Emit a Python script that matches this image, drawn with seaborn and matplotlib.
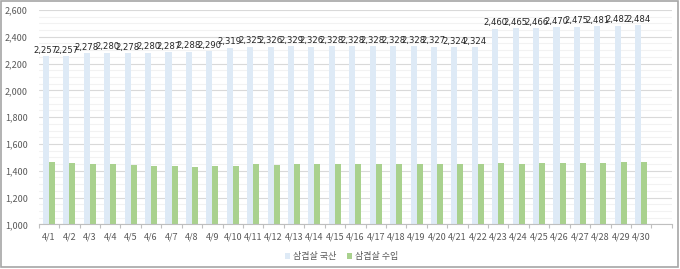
import matplotlib
matplotlib.use("Agg")
import matplotlib.pyplot as plt
import seaborn as sns
import pandas as pd
import numpy as np
from matplotlib.ticker import MultipleLocator, FixedLocator, FuncFormatter
from matplotlib.patches import Rectangle

dates = ["4/%d" % d for d in range(1, 31)]
domestic = [2257, 2257, 2278, 2280, 2278, 2280, 2287, 2288, 2290,
            2319, 2325, 2326, 2329, 2326, 2328, 2328, 2328, 2328, 2328, 2327, 2324, 2324,
            2460, 2465, 2466, 2470, 2475, 2481, 2482, 2484]
imported = [1462, 1457, 1452, 1447, 1442, 1437, 1437, 1425, 1432,
            1437, 1447, 1442, 1447, 1447, 1447, 1447, 1452, 1452, 1452, 1447, 1447, 1452,
            1457, 1452, 1457, 1457, 1457, 1457, 1462, 1462]
series_names = ["삼겹살 국산", "삼겹살 수입"]
colors = ["#DEEAF6", "#A9D18E"]

df = pd.DataFrame({
    "date": dates * 2,
    "value": domestic + imported,
    "series": [series_names[0]] * len(dates) + [series_names[1]] * len(dates),
})

sns.set_theme(style="white")
plt.rcParams["font.family"] = ["Noto Sans CJK KR", "DejaVu Sans"]

fig = plt.figure(figsize=(6.8, 2.69), dpi=100)
ax = fig.add_axes([0.057, 0.166, 0.931, 0.797])

order = dates + [" "]
sns.barplot(data=df, x="date", y="value", hue="series", order=order,
            palette=colors, width=0.59, ax=ax, saturation=1, legend=True,
            linewidth=0, edgecolor="none")

ax.set_ylim(1000, 2600)
ax.set_xlim(-0.5, 30.5)
ax.yaxis.set_major_locator(MultipleLocator(200))
ax.yaxis.set_minor_locator(MultipleLocator(50))
ax.yaxis.set_major_formatter(FuncFormatter(lambda v, p: f"{int(v):,}"))
ax.grid(axis="y", which="major", color="#D9D9D9", linewidth=0.8)
ax.grid(axis="y", which="minor", color="#F2F2F2", linewidth=0.8)
ax.set_axisbelow(True)

for s in ["top", "right", "left"]:
    ax.spines[s].set_visible(False)
ax.spines["bottom"].set_color("#BFBFBF")
ax.spines["bottom"].set_linewidth(0.8)

ax.set_xlabel("")
ax.set_ylabel("")
ax.set_xticks(range(len(dates)))
ax.set_xticklabels(dates)
ax.xaxis.set_minor_locator(FixedLocator(np.arange(-0.5, 31, 1)))
ax.tick_params(axis="x", which="major", length=0, labelsize=6.5, labelcolor="#595959", pad=6)
ax.tick_params(axis="x", which="minor", length=3, color="#BFBFBF", width=0.8, bottom=True)
ax.tick_params(axis="y", which="both", length=0, labelsize=6.5, labelcolor="#595959", pad=8)

# data labels on domestic bars
cont = ax.containers[0]
labels = [f"{v:,}" for v in domestic]
ax.bar_label(cont, labels=labels, fontsize=6.1, color="#262626", padding=1,
             family=["DejaVu Sans"])

leg = ax.legend(loc="center", bbox_to_anchor=(0.478, -0.15), ncol=2, frameon=False,
                fontsize=6.5, handlelength=0.6, handleheight=0.6, handletextpad=0.3,
                columnspacing=1.2, labelcolor="#595959")

fig.patches.append(Rectangle((0.0015, 0.006), 0.996, 0.99, transform=fig.transFigure,
                             fill=False, edgecolor="#A6A6A6", linewidth=1.2))

fig.savefig("out.png", dpi=100)
